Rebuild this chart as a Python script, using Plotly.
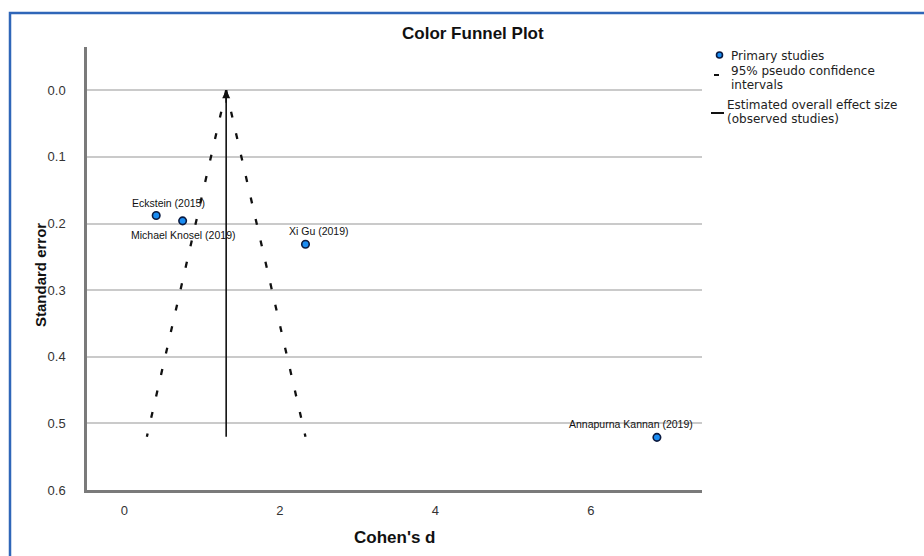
import plotly.graph_objects as go

# ---- data ----
studies = ["Eckstein (2015)", "Michael Knosel (2019)", "Xi Gu (2019)", "Annapurna Kannan (2019)"]
cohens_d = [0.41, 0.75, 2.33, 6.85]
std_err = [0.188, 0.196, 0.231, 0.521]
label_dx = [12, 0, 14, -26]     # label offsets (px)
label_dy = [13, -14, 13, 13]

overall_d = 1.31
funnel_se = [0.0, 0.52]
ci_left = [1.31, 0.29]
ci_right = [1.31, 2.33]

x_ticks = [0, 2, 4, 6]
y_ticks = [0.0, 0.1, 0.2, 0.3, 0.4, 0.5, 0.6]

FONT = "Liberation Sans, Arial, sans-serif"
LFONT = "DejaVu Sans, Verdana, sans-serif"

fig = go.Figure()

# funnel (95% pseudo CI)
for xs in (ci_left, ci_right):
    fig.add_trace(go.Scatter(x=xs, y=funnel_se, mode="lines",
                             line=dict(color="#111111", width=2.3, dash="6px,16px"),
                             showlegend=False, hoverinfo="skip"))
# overall effect line
fig.add_trace(go.Scatter(x=[overall_d, overall_d], y=funnel_se, mode="lines",
                         line=dict(color="#111111", width=1.6),
                         showlegend=False, hoverinfo="skip"))
# studies
fig.add_trace(go.Scatter(x=cohens_d, y=std_err, mode="markers",
                         marker=dict(size=7.5, color="#1A8CF2",
                                     line=dict(color="#0B1A40", width=1.6)),
                         showlegend=False))

annotations = []
for name, xv, yv, dx, dy in zip(studies, cohens_d, std_err, label_dx, label_dy):
    annotations.append(dict(x=xv, y=yv, xref="x", yref="y", text=name, showarrow=False,
                            xshift=dx, yshift=dy,
                            font=dict(family=FONT, size=10.5, color="#111111")))
# arrow tip at top of overall line
annotations.append(dict(x=overall_d, y=funnel_se[0], xref="x", yref="y", text="",
                        showarrow=True, ax=0, ay=14, arrowhead=2, arrowsize=1,
                        arrowwidth=1.6, arrowcolor="#111111"))

L, R, T, B = 87, 702, 47, 490
W, H = 924, 556
def px(xp):
    return (xp - L) / (R - L)
def py(yp):
    return (B - yp) / (B - T)

# custom legend
LF = dict(family=LFONT, size=12, color="#222222")
leg = [
    ("Primary studies", 729, 56),
    ("95% pseudo confidence", 729, 71),
    ("intervals", 729, 85),
    ("Estimated overall effect size", 725, 105),
    ("(observed studies)", 725, 119),
]
for txt, xpx, ypx in leg:
    annotations.append(dict(x=px(xpx), y=py(ypx), xref="paper", yref="paper", text=txt,
                            showarrow=False, xanchor="left", yanchor="middle", font=LF))

annotations.append(dict(x=px(473), y=py(33), xref="paper", yref="paper",
                        xanchor="center", yanchor="middle",
                        text="<b>Color Funnel Plot</b>", showarrow=False,
                        font=dict(family=FONT, size=17, color="#111111")))
annotations.append(dict(x=px(395), y=py(537), xref="paper", yref="paper",
                        xanchor="center", yanchor="middle",
                        text="<b>Cohen's d</b>", showarrow=False,
                        font=dict(family=FONT, size=17, color="#111111")))
annotations.append(dict(x=px(40), y=py(275), xref="paper", yref="paper",
                        xanchor="center", yanchor="middle",
                        text="<b>Standard error</b>", showarrow=False, textangle=-90,
                        font=dict(family=FONT, size=15, color="#111111")))

shapes = [
    # legend marker
    dict(type="circle", xref="paper", yref="paper",
         x0=px(716.5), x1=px(722.5), y0=py(58), y1=py(52),
         fillcolor="#1A8CF2", line=dict(color="#0B1A40", width=1.6)),
    # legend dash for CI
    dict(type="line", xref="paper", yref="paper",
         x0=px(714), x1=px(719), y0=py(75), y1=py(75),
         line=dict(color="#111111", width=2)),
    # legend line for overall effect
    dict(type="line", xref="paper", yref="paper",
         x0=px(711), x1=px(724), y0=py(113), y1=py(113),
         line=dict(color="#111111", width=2)),
    # blue frame
    dict(type="rect", xref="paper", yref="paper",
         x0=px(10), x1=px(940), y0=py(13), y1=py(570),
         line=dict(color="#2F66B8", width=2.5), fillcolor="rgba(0,0,0,0)", layer="below"),
]

fig.update_layout(
    width=W, height=H,
    margin=dict(l=L, r=W - R, t=T, b=H - B),
    paper_bgcolor="white", plot_bgcolor="white",
    showlegend=False,
    annotations=annotations, shapes=shapes,
    xaxis=dict(range=[-0.48, 7.43], tickvals=x_ticks, ticktext=[str(v) for v in x_ticks],
               showgrid=False, zeroline=False, showline=True, linecolor="#7A7A7A",
               linewidth=2.5, ticks="", ticklabelstandoff=7,
               tickfont=dict(family=FONT, size=13, color="#333333")),
    yaxis=dict(range=[0.6, -0.065], tickvals=y_ticks,
               ticktext=[f"{v:.1f}" for v in y_ticks],
               showgrid=True, gridcolor="#CACACA", gridwidth=1.5, zeroline=False,
               showline=True, linecolor="#7A7A7A", linewidth=2.5, ticks="",
               ticklabelstandoff=16,
               tickfont=dict(family=FONT, size=13, color="#333333")),
)

fig.write_html("out.html")
